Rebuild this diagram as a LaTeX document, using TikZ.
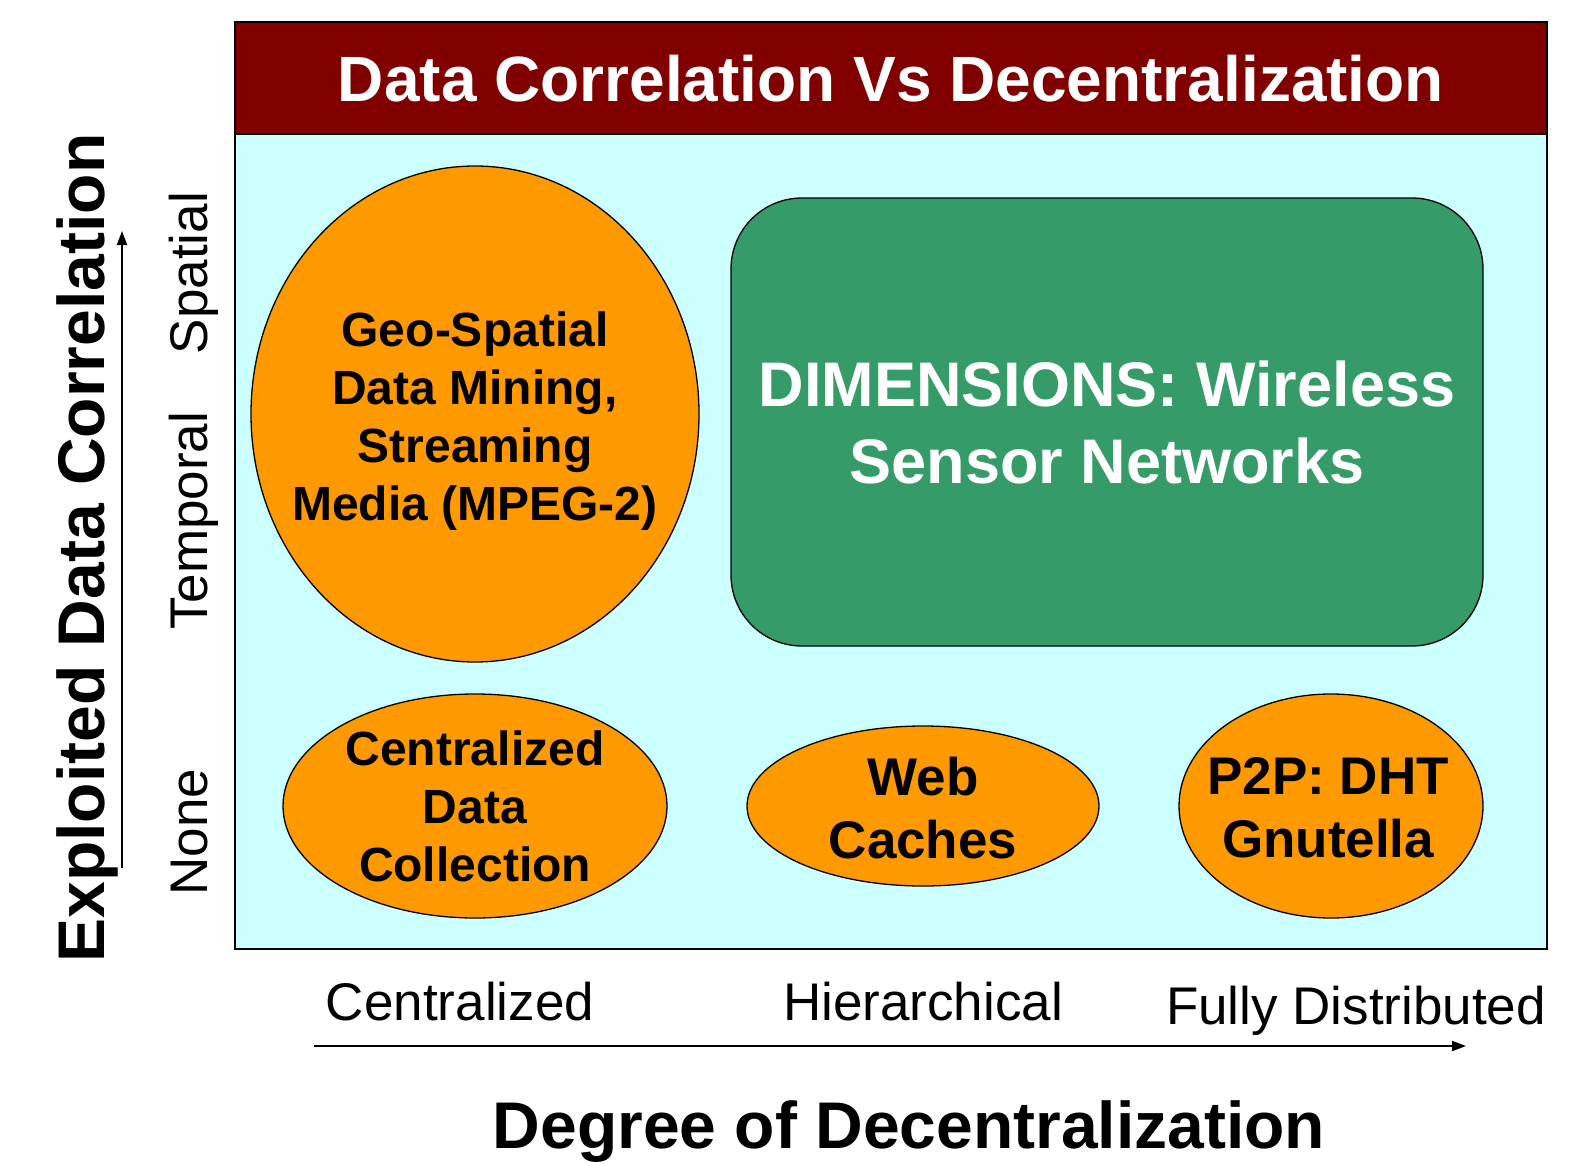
\documentclass[tikz,border=0pt]{standalone}
\usepackage{fontspec}
\setmainfont{Liberation Sans}
\usepackage{tikz}
\usetikzlibrary{arrows.meta, positioning, shapes.geometric}
\usepackage{xcolor}
\definecolor{titlered}{RGB}{128,0,0}
\definecolor{paleaqua}{RGB}{204,255,255}
\definecolor{blobor}{RGB}{255,153,0}
\definecolor{seagreen}{RGB}{53,155,104}

\tikzset{
  blob/.style={ellipse, draw, line width=1.3pt, fill=blobor, inner sep=0pt},
  blobtxt/.style={align=center, font=\fontsize{48}{58}\selectfont\bfseries},
  bigtxt/.style={align=center, font=\fontsize{53}{63}\selectfont\bfseries},
  axlab/.style={font=\fontsize{53}{60}\selectfont},
  axtitle/.style={font=\fontsize{66}{72}\selectfont\bfseries},
  axarrow/.style={-{Triangle[length=14pt,width=10pt]}, line width=2pt},
}

\begin{document}
\begin{tikzpicture}[x=1pt, y=1pt]
  \useasboundingbox (0,0) rectangle (1587,-1164);
  % panel and title band
  \fill[paleaqua] (235,-134) rectangle (1547,-949);
  \fill[titlered] (235,-22) rectangle (1547,-134);
  \draw[line width=1.5pt] (235,-22) rectangle (1547,-949);
  \draw[line width=1.5pt] (235,-134) -- (1547,-134);
  \node[text=white, font=\fontsize{64}{78}\selectfont\bfseries] (title) at (891,-79) {Data Correlation Vs Decentralization};

  % categories
  \node[blob, minimum width=448, minimum height=496] (geo) at (475,-414) {};
  \node[blobtxt] (geotxt) at (475,-421) {Geo-Spatial\\Data Mining,\\Streaming\\Media (MPEG-2)};
  \node[draw, line width=1.3pt, rounded corners=71pt, fill=seagreen, text=white, align=center,
        minimum width=752, minimum height=448, font=\fontsize{63}{77}\selectfont\bfseries] (dim) at (1107,-422)
        {DIMENSIONS: Wireless\\Sensor Networks};
  \node[blob, minimum width=384, minimum height=224] (cdc) at (475,-806) {};
  \node[blobtxt] (cdctxt) at (cdc) {Centralized\\Data\\Collection};
  \node[blob, minimum width=352, minimum height=160] (web) at (923,-806) {};
  \node[bigtxt] (webtxt) at (923,-808) {Web\\Caches};
  \node[blob, minimum width=304, minimum height=224] (p2p) at (1331,-806) {};
  \node[bigtxt] (p2ptxt) at (1328,-808) {P2P: DHT\\Gnutella};

  % horizontal axis
  \node[axlab, anchor=base] (hcen) at (460,-1020) {Centralized};
  \node[axlab, anchor=base] (hhier) at (923,-1020) {Hierarchical};
  \node[axlab, anchor=base] (hfull) at (1356,-1024) {Fully Distributed};
  \coordinate (hstart) at (314,-1046);
  \coordinate (hend) at (1466,-1046);
  \draw[axarrow] (hstart) -- (hend);
  \node[axtitle, anchor=base] (htitle) at (909,-1148) {Degree of Decentralization};

  % vertical axis
  \foreach \lab/\yy/\nm in {None/832/vnone, Temporal/521/vtemp, Spatial/273/vspat} {
    \node[axlab, rotate=90, anchor=base] (\nm) at (207,-\yy) {\lab};
  }
  \coordinate (vstart) at (122,-868);
  \coordinate (vend) at (122,-231);
  \draw[axarrow] (vstart) -- (vend);
  \node[axtitle, rotate=90, anchor=base] (vtitle) at (104,-548) {Exploited Data Correlation};
\end{tikzpicture}
\end{document}
